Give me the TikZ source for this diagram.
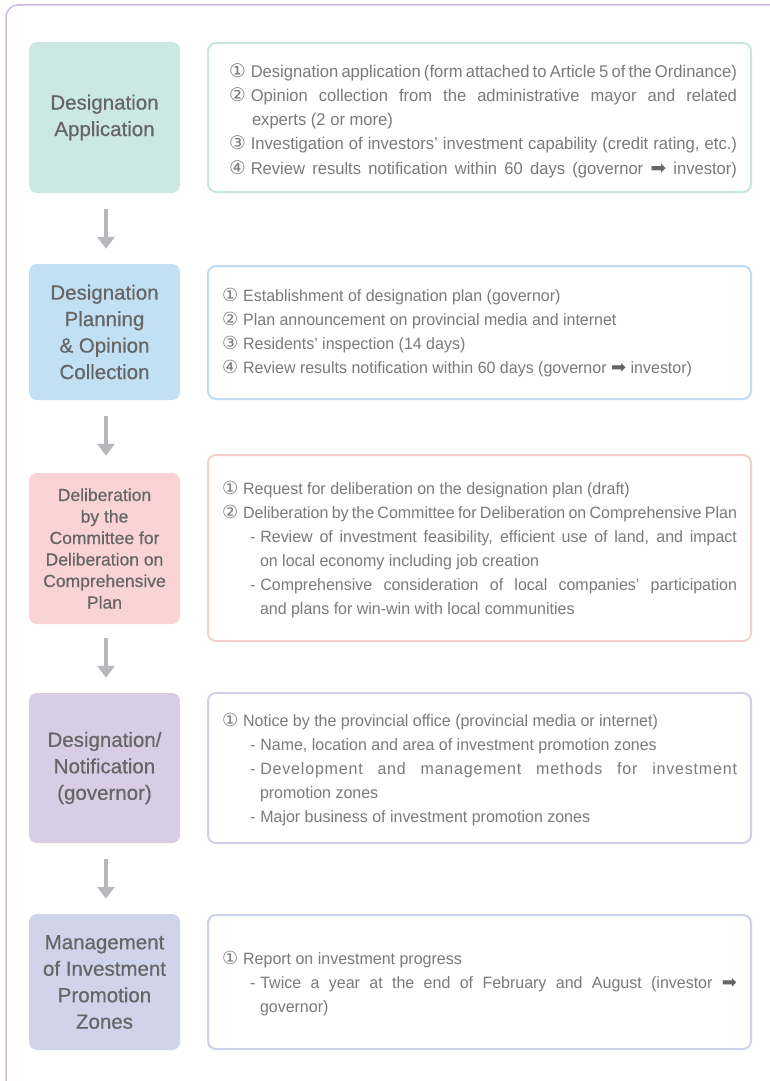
\documentclass[tikz,border=0pt]{standalone}
\usepackage{fontspec}
\usetikzlibrary{arrows.meta}
\setmainfont{Liberation Sans}
\newfontfamily\lf[FakeBold=0.6]{Liberation Sans}
\newfontfamily\rtf[FakeStretch=0.975]{Liberation Sans}
\newfontfamily\symf[Scale=1.1]{DejaVu Sans}
\definecolor{f1}{HTML}{CCE8E2}
\definecolor{f2}{HTML}{C2E0F4}
\definecolor{f3}{HTML}{FAD4D4}
\definecolor{f4}{HTML}{D9CDE6}
\definecolor{f5}{HTML}{D0D4EA}
\definecolor{e1}{HTML}{C6E6DE}
\definecolor{e2}{HTML}{BEDCF2}
\definecolor{e3}{HTML}{F8CDCD}
\definecolor{e4}{HTML}{D6CCE5}
\definecolor{e5}{HTML}{CCD1EC}
\definecolor{framec}{HTML}{CDB8DE}
\definecolor{ltext}{HTML}{666666}
\definecolor{rtext}{HTML}{7A7A7A}
\definecolor{adark}{HTML}{666666}
\definecolor{agray}{HTML}{B8B8BC}
\newcommand\cn[1]{\hbox{{\symf #1}\kern5pt}}
\newcommand\D{\hbox{-\kern5pt}}
\newcommand\rarr{{\symf\color{adark}➡}}
\newcommand\JL[2]{\hbox to\hsize{\hskip#1\relax #2}}
\newcommand\PL[2]{\hbox to\hsize{\hskip#1\relax #2\hfil}}
\newcommand\RB[2][0pt]{\vbox{\hsize=515pt \kern#1\relax #2}}
\tikzset{
  lbox/.style={fill=#1, rounded corners=8pt, minimum width=151pt, align=center,
    text=ltext, font=\lf\fontsize{20.5}{26.5}\selectfont, inner sep=0pt},
  rbox/.style={draw=#1, line width=2pt, rounded corners=8pt, fill=white,
    minimum width=543pt, inner xsep=14pt, inner ysep=0pt, text=rtext,
    font=\rtf\fontsize{16.4}{24}\selectfont},
  arr/.style={draw=agray, line width=4.7pt, -{Triangle[width=17pt,length=12pt]}},
  framel/.style={draw=framec, line width=1.5pt, rounded corners=12pt}
}
\begin{document}
\begin{tikzpicture}[x=1pt,y=-1pt]
\useasboundingbox (0,0) rectangle (769,1081);
\draw[framel] (6,1095) |- (790,5);

\node[lbox=f1, minimum height=151pt] (b1) at (104.5,117.5) {Designation\\Application};
\node[lbox=f2, minimum height=136pt] (b2) at (104.5,332) {Designation\\Planning\\\& Opinion\\Collection};
\node[lbox=f3, minimum height=151pt, font=\lf\fontsize{17.5}{21.5}\selectfont] (b3) at (104.5,548.5) {Deliberation\\by the\\Committee for\\Deliberation on\\Comprehensive\\Plan};
\node[lbox=f4, minimum height=150pt] (b4) at (104.5,768) {Designation/\\Notification\\(governor)};
\node[lbox=f5, minimum height=136pt] (b5) at (104.5,982) {Management\\of Investment\\Promotion\\Zones};

\node[rbox=e1, minimum height=149pt, font=\rtf\fontsize{17}{24.3}\selectfont] (r1) at (479.5,117.5) {\RB[6pt]{%
\JL{7pt}{\cn{①}Designation application (form attached to Article 5 of the Ordinance)}
\JL{7pt}{\cn{②}Opinion collection from the administrative mayor and related}
\PL{30pt}{experts (2 or more)}
\JL{7pt}{\cn{③}Investigation of investors’ investment capability (credit rating, etc.)}
\JL{7pt}{\cn{④}Review results notification within 60 days (governor \rarr{} investor)}}};

\node[rbox=e2, minimum height=133pt] (r2) at (479.5,332.5) {\RB{%
\PL{0pt}{\cn{①}Establishment of designation plan (governor)}
\PL{0pt}{\cn{②}Plan announcement on provincial media and internet}
\PL{0pt}{\cn{③}Residents’ inspection (14 days)}
\PL{0pt}{\cn{④}Review results notification within 60 days (governor \rarr{} investor)}}};

\node[rbox=e3, minimum height=186pt] (r3) at (479.5,548) {\RB[3pt]{%
\PL{0pt}{\cn{①}Request for deliberation on the designation plan (draft)}
\PL{0pt}{\cn{②}Deliberation by the Committee for Deliberation on Comprehensive Plan}
\JL{28pt}{\D Review of investment feasibility, efficient use of land, and impact}
\PL{38pt}{on local economy including job creation}
\JL{28pt}{\D Comprehensive consideration of local companies’ participation}
\PL{38pt}{and plans for win-win with local communities}}};

\node[rbox=e4, minimum height=150pt] (r4) at (479.5,768) {\RB[3pt]{%
\PL{0pt}{\cn{①}Notice by the provincial office (provincial media or internet)}
\PL{28pt}{\D Name, location and area of investment promotion zones}
\JL{28pt}{\D {\addfontfeature{LetterSpace=5}Development and management methods for investment}}
\PL{38pt}{promotion zones}
\PL{28pt}{\D Major business of investment promotion zones}}};

\node[rbox=e5, minimum height=134pt] (r5) at (479.5,982) {\RB[3pt]{%
\PL{0pt}{\cn{①}Report on investment progress}
\JL{28pt}{\D Twice a year at the end of February and August (investor \rarr}
\PL{38pt}{governor)}}};

\draw[arr] ([xshift=1.5pt,yshift=-16pt]b1.south) -- ([xshift=1.5pt,yshift=15pt]b2.north);
\draw[arr] ([xshift=1.5pt,yshift=-16pt]b2.south) -- ([xshift=1.5pt,yshift=17pt]b3.north);
\draw[arr] ([xshift=1.5pt,yshift=-14pt]b3.south) -- ([xshift=1.5pt,yshift=15pt]b4.north);
\draw[arr] ([xshift=1.5pt,yshift=-16pt]b4.south) -- ([xshift=1.5pt,yshift=15pt]b5.north);
\end{tikzpicture}
\end{document}
